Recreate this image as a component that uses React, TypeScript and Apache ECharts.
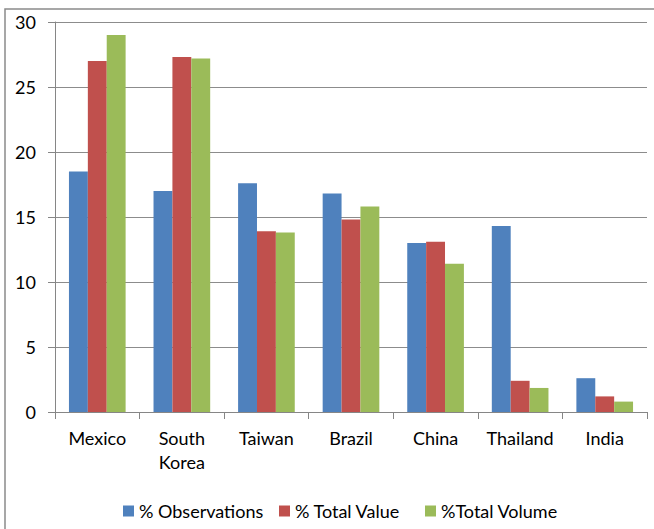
import React, { useEffect, useRef } from "react";
import * as echarts from "echarts";

const categories = ["Mexico", "South\nKorea", "Taiwan", "Brazil", "China", "Thailand", "India"];
const observations = [18.5, 17.0, 17.6, 16.8, 13.0, 14.3, 2.6];
const totalValue = [27.0, 27.3, 13.9, 14.8, 13.1, 2.4, 1.2];
const totalVolume = [29.0, 27.2, 13.8, 15.8, 11.4, 1.85, 0.8];
const seriesNames = ["% Observations", "% Total Value", "%Total Volume"];
const colors = ["#4F81BD", "#C0504D", "#9BBB59"];
const legendLefts = [123, 279, 425];

const FONT = "Lato, 'Noto Sans', sans-serif";

export default function App() {
  const ref = useRef<HTMLDivElement>(null);

  useEffect(() => {
    if (!ref.current) return;
    const chart = echarts.init(ref.current, null, { renderer: "svg" });
    const values = [observations, totalValue, totalVolume];
    chart.setOption({
      animation: false,
      backgroundColor: "#ffffff",
      textStyle: { fontFamily: FONT },
      graphic: [
        {
          type: "rect",
          shape: { x: 5, y: 9, width: 700, height: 600 },
          style: { fill: "none", stroke: "#8a8a8a", lineWidth: 1.5 },
          silent: true,
        },
      ],
      grid: { left: 55, right: 7, top: 22, bottom: 117, containLabel: false },
      // one legend block per series so each entry sits at its own spot
      legend: seriesNames.map((name, i) => ({
        left: legendLefts[i],
        top: 502,
        padding: 0,
        itemWidth: 11,
        itemHeight: 11,
        itemGap: 0,
        icon: "rect",
        textStyle: { fontFamily: FONT, fontSize: 18, color: "#000" },
        data: [name],
      })),
      xAxis: {
        type: "category",
        data: categories,
        axisLine: { lineStyle: { color: "#868686", width: 1 } },
        axisTick: { show: true, length: 7, lineStyle: { color: "#868686" } },
        axisLabel: {
          fontFamily: FONT,
          fontSize: 18,
          color: "#000",
          margin: 14,
          lineHeight: 24,
          interval: 0,
        },
      },
      yAxis: {
        type: "value",
        min: 0,
        max: 30,
        interval: 5,
        axisLine: { show: true, lineStyle: { color: "#868686", width: 1 } },
        axisTick: { show: true, length: 7, lineStyle: { color: "#868686" } },
        splitLine: { lineStyle: { color: "#8c8c8c", width: 1 } },
        axisLabel: { fontFamily: FONT, fontSize: 18, color: "#000", margin: 19 },
      },
      series: seriesNames.map((name, i) => ({
        name,
        type: "bar",
        data: values[i],
        barGap: "0%",
        barCategoryGap: "33%",
        itemStyle: { color: colors[i] },
      })),
    });
    return () => chart.dispose();
  }, []);

  return (
    <div
      ref={ref}
      style={{ position: "fixed", left: 0, top: 0, width: 654, height: 529 }}
    />
  );
}
